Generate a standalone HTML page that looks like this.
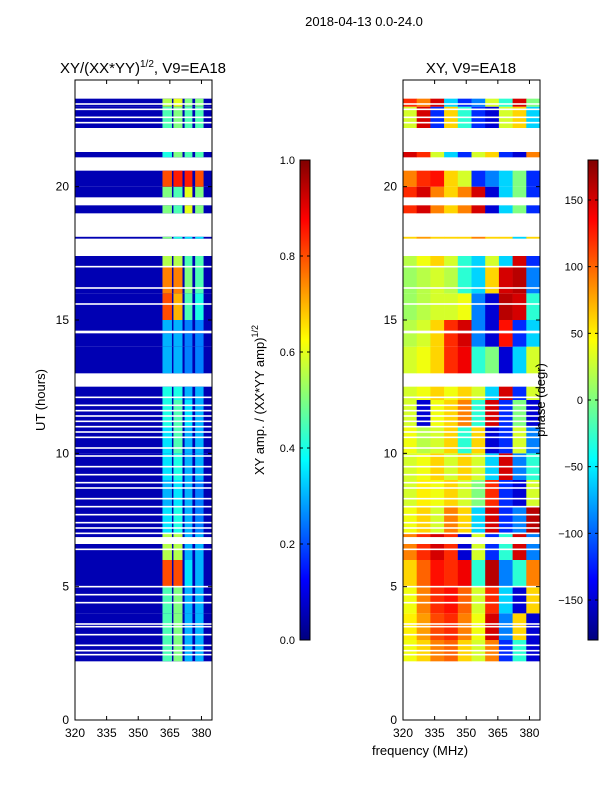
<!DOCTYPE html>
<html><head><meta charset="utf-8"><style>
body{margin:0;background:#fff;}
svg text{font-family:"Liberation Sans",sans-serif;fill:#000;}
</style></head><body>
<svg id="fig" width="600" height="800" xmlns="http://www.w3.org/2000/svg">
<text x="364" y="26" font-size="13" text-anchor="middle">2018-04-13 0.0-24.0</text>
<text x="143" y="73" font-size="15" text-anchor="middle">XY/(XX*YY)<tspan font-size="10" dy="-6">1/2</tspan><tspan dy="6">, V9=EA18</tspan></text>
<text x="471" y="73" font-size="15" text-anchor="middle">XY, V9=EA18</text>
<text transform="translate(45,400) rotate(-90)" font-size="13" text-anchor="middle">UT (hours)</text>
<text x="420" y="755" font-size="13" text-anchor="middle">frequency (MHz)</text>
<text transform="translate(264,400) rotate(-90)" font-size="13" text-anchor="middle">XY amp. / (XX*YY amp)<tspan font-size="9" dy="-6">1/2</tspan></text>
<g id="left"></g>
<g id="right"></g>
<g id="cb1"></g>
<g id="cb2"></g>
<text transform="translate(545,400) rotate(-90)" font-size="13" text-anchor="middle">phase (degr)</text>
</svg>
<script>
const segStart=[22.2,21.1,19.6,19.0,18.05,14.6,13.0,2.2];
const segEnd=[23.3,21.3,20.6,19.3,18.12,17.4,14.5,12.5];
const whiteLines=[23.1,22.9,22.6,22.4,17.0,16.2,15.6,12.1,11.8,11.6,11.4,11.2,11.0,10.8,10.6,10.2,9.9,9.5,9.2,8.9,8.7,8.3,8.0,7.7,7.4,7.2,7.0,6.4,5.0,4.7,4.4,3.6,3.5,3.2,2.8,2.6,2.45];
const whiteBlocks=[[6.6,6.86]];
const rowHours=[2,3,4,5,6,7,8,9,10,11,12,13,14,15,16,17,18,19,20,21,22,23];
const stripeLo=[361.5,366.7,372,377];
const stripeHi=[366,371,375.7,381];
const ampBackground=0.05;
const ampRows=[[0.45,0.5,0.3,0.3],[0.45,0.5,0.3,0.3],[0.45,0.5,0.3,0.3],[0.8,0.8,0.35,0.3],[0.55,0.55,0.3,0.3],[0.35,0.4,0.3,0.25],[0.3,0.35,0.3,0.25],[0.35,0.4,0.3,0.3],[0.35,0.45,0.3,0.3],[0.4,0.45,0.35,0.3],[0.4,0.4,0.3,0.3],[0.3,0.3,0.25,0.25],[0.3,0.3,0.25,0.25],[0.8,0.7,0.45,0.4],[0.75,0.75,0.5,0.45],[0.55,0.55,0.45,0.45],[0.5,0.4,0.35,0.35],[0.5,0.45,0.6,0.5],[0.8,0.85,0.85,0.8],[0.4,0.5,0.45,0.45],[0.45,0.5,0.45,0.45],[0.55,0.6,0.5,0.5]];
const phaseColStarts=[320,326.5,333,339.5,346,352.5,359,365.5,372,378.5];
const phaseRows=[[40,60,90,100,60,30,90,-120,-30,-150],[50,80,110,120,90,40,150,-90,60,-150],[40,90,120,130,100,30,120,-60,-150,60],[60,100,130,120,140,-30,160,-90,-30,90],[90,120,150,120,-150,30,-120,-30,150,-90],[40,60,30,90,60,-60,150,-120,-90,160],[30,50,40,60,30,0,120,-120,-150,30],[30,40,60,30,60,30,-60,150,-90,-30],[40,20,30,60,-30,60,-150,-120,30,-90],[30,-150,40,60,90,-30,150,-120,0,-150],[30,40,60,40,60,30,-60,150,-120,30],[30,40,60,120,140,-30,0,-150,-60,30],[20,30,60,120,150,-90,-150,130,-120,-60],[10,20,30,30,40,-90,-150,160,150,-30],[10,20,30,20,-30,-60,60,150,160,-90],[20,40,60,30,-30,-60,30,-60,150,-120],[60,80,60,60,60,90,60,60,-60,60],[120,150,90,60,90,150,-150,-60,0,-120],[90,120,130,60,30,-120,-90,-60,0,-120],[150,120,30,-60,-120,30,60,-120,-150,90],[30,150,-120,60,-30,-120,-150,30,60,-60],[120,90,150,-60,-120,-90,30,-30,150,0]];
const yTicks=[0,5,10,15,20];
const xTicks=[320,335,350,365,380];
const ampTicks=[0.0,0.2,0.4,0.6,0.8,1.0];
const phaseTicks=[-150,-100,-50,0,50,100,150];

const NS="http://www.w3.org/2000/svg";
function jet(v){v=Math.max(0,Math.min(1,v));const c=x=>Math.round(255*Math.max(0,Math.min(1,1.5-Math.abs(x))));return `rgb(${c(4*v-3)},${c(4*v-2)},${c(4*v-1)})`;}
function mk(p,tag,a){const e=document.createElementNS(NS,tag);for(const k in a)e.setAttribute(k,a[k]);p.appendChild(e);return e;}
const Y0=720,Y1=80;
function yS(h){return Y0-(h/24)*(Y0-Y1);}
function panel(g,L,R,kind){
  const xS=f=>L+(f-320)/65*(R-L);
  segStart.forEach((s,i)=>{
    const e=segEnd[i];
    rowHours.forEach((h,r)=>{
      const a=Math.max(s,h),b=Math.min(e,h+1);
      if(b<=a)return;
      const yt=yS(b),yb=yS(a);
      if(kind==='amp'){
        const bg=mk(g,'rect',{x:L,y:yt,width:R-L,height:yb-yt,fill:jet(ampBackground)});
        
        
        ampRows[r].forEach((v,k)=>{
          const c=mk(g,'rect',{x:xS(stripeLo[k]),y:yt,width:xS(stripeHi[k])-xS(stripeLo[k]),height:yb-yt,fill:jet(v)});
          
          
        });
      }else{
        phaseRows[r].forEach((v,k)=>{
          const x0=xS(phaseColStarts[k]),x1=k+1<phaseColStarts.length?xS(phaseColStarts[k+1]):R;
          const c=mk(g,'rect',{x:x0,y:yt,width:x1-x0+0.3,height:yb-yt,fill:jet((v+180)/360)});
          
          
        });
      }
    });
  });
  whiteLines.forEach(h=>{mk(g,'rect',{x:L,y:yS(h)-0.8,width:R-L,height:1.6,fill:'#fff'});});
  whiteBlocks.forEach(b=>{mk(g,'rect',{x:L,y:yS(b[1]),width:R-L,height:yS(b[0])-yS(b[1]),fill:'#fff'});});
  mk(g,'rect',{x:L,y:Y1,width:R-L,height:Y0-Y1,fill:'none',stroke:'#000','stroke-width':1});
  yTicks.forEach(t=>{const y=yS(t);mk(g,'line',{x1:L,x2:L+4,y1:y,y2:y,stroke:'#000'});mk(g,'line',{x1:R,x2:R-4,y1:y,y2:y,stroke:'#000'});
    const tx=mk(g,'text',{x:L-6,y:y+4,'font-size':12,'text-anchor':'end'});tx.textContent=t;
    
    });
  xTicks.forEach(t=>{const x=xS(t);mk(g,'line',{x1:x,x2:x,y1:Y0,y2:Y0-4,stroke:'#000'});mk(g,'line',{x1:x,x2:x,y1:Y1,y2:Y1+4,stroke:'#000'});
    const tx=mk(g,'text',{x:x,y:Y0+17,'font-size':12,'text-anchor':'middle'});tx.textContent=t;
    
    });
}
panel(document.getElementById('left'),75,212,'amp');
panel(document.getElementById('right'),403,540,'phase');
function cbar(g,L,W,T,B,ticks,lo,hi,fmt){
  for(let i=0;i<240;i++){const v=i/240;mk(g,'rect',{x:L,y:B-(i+1)*(B-T)/240,width:W,height:(B-T)/240+0.5,fill:jet(v)});}
  mk(g,'rect',{x:L,y:T,width:W,height:B-T,fill:'none',stroke:'#000'});
  ticks.forEach(t=>{const y=B-(t-lo)/(hi-lo)*(B-T);mk(g,'line',{x1:L,x2:L+3,y1:y,y2:y,stroke:'#000'});mk(g,'line',{x1:L+W,x2:L+W-3,y1:y,y2:y,stroke:'#000'});
    const tx=mk(g,'text',{x:L-5,y:y+4,'font-size':11,'text-anchor':'end'});tx.textContent=fmt(t);
    
    });
}
cbar(document.getElementById('cb1'),300,10,160,640,ampTicks,0,1,t=>t.toFixed(1));
cbar(document.getElementById('cb2'),588,10,160,640,phaseTicks,-180,180,t=>t<0?'\u2212'+(-t):''+t);
</script>
</body></html>
